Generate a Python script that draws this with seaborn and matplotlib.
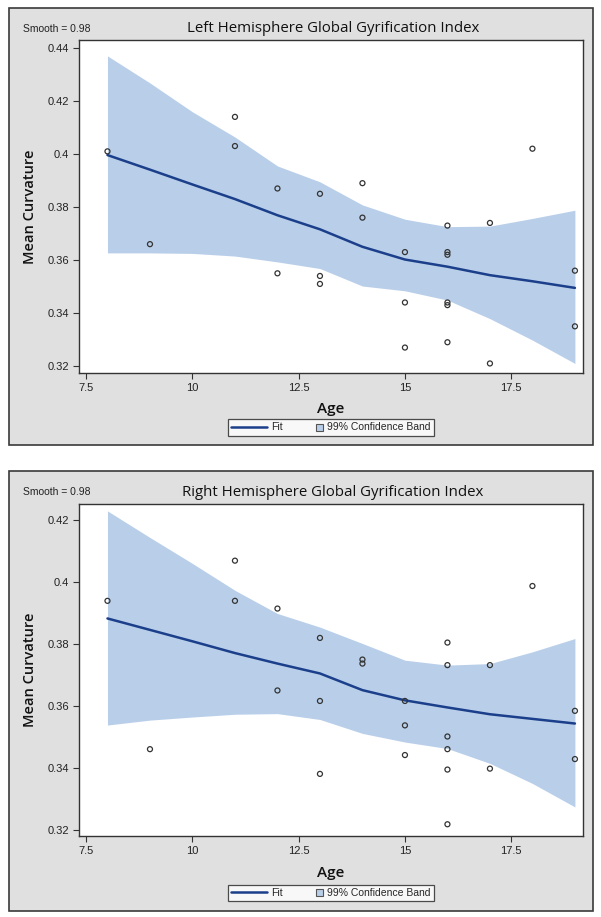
import numpy as np
import pandas as pd
import seaborn as sns
import matplotlib.pyplot as plt
import matplotlib.patches as mpatches
from matplotlib.lines import Line2D
from matplotlib.legend_handler import HandlerPatch
from matplotlib.ticker import FuncFormatter

# observed points (age, mean curvature)
ages = [8, 9, 11, 11, 12, 12, 13, 13, 13, 14, 14, 15, 15, 15,
        16, 16, 16, 16, 16, 16, 17, 17, 18, 19, 19]
left_curv = [0.401, 0.366, 0.414, 0.403, 0.387, 0.355, 0.385, 0.354, 0.351,
             0.389, 0.376, 0.363, 0.344, 0.327,
             0.373, 0.363, 0.362, 0.344, 0.343, 0.329,
             0.374, 0.321, 0.402, 0.356, 0.335]
right_curv = [0.394, 0.346, 0.407, 0.394, 0.3915, 0.365, 0.382, 0.3616, 0.338,
              0.375, 0.3737, 0.3616, 0.3537, 0.3441,
              0.3805, 0.3732, 0.3501, 0.3460, 0.3394, 0.3217,
              0.3732, 0.3397, 0.3988, 0.3584, 0.3428]

# loess fit and 99% band, read at whole ages
fit_age = [8, 9, 10, 11, 12, 13, 14, 15, 16, 17, 18, 19]
left_fit = [0.3996, 0.3941, 0.3885, 0.3830, 0.3769, 0.3716, 0.3650, 0.3602,
            0.3575, 0.3543, 0.3520, 0.3495]
left_upper = [0.4370, 0.4268, 0.4159, 0.4064, 0.3955, 0.3895, 0.3808, 0.3754,
              0.3726, 0.3728, 0.3757, 0.3788]
left_lower = [0.3627, 0.3627, 0.3625, 0.3615, 0.3593, 0.3568, 0.3502, 0.3484,
              0.3449, 0.3379, 0.3298, 0.3210]
right_fit = [0.3883, 0.3846, 0.3809, 0.3771, 0.3737, 0.3705, 0.3651, 0.3618,
             0.3595, 0.3573, 0.3558, 0.3543]
right_upper = [0.4231, 0.4145, 0.4061, 0.3974, 0.3899, 0.3855, 0.3802, 0.3748,
               0.3732, 0.3737, 0.3775, 0.3818]
right_lower = [0.3538, 0.3554, 0.3564, 0.3573, 0.3575, 0.3556, 0.3511, 0.3483,
               0.3462, 0.3414, 0.3349, 0.3273]

titles = ["Left Hemisphere Global Gyrification Index",
          "Right Hemisphere Global Gyrification Index"]
x_ticks = [7.5, 10, 12.5, 15, 17.5]
left_yticks = [0.32, 0.34, 0.36, 0.38, 0.40, 0.42, 0.44]
right_yticks = [0.32, 0.34, 0.36, 0.38, 0.40, 0.42]

sns.set_theme(style="white")
plt.rcParams['font.family'] = ['Liberation Sans', 'DejaVu Sans']

BAND = "#b9cfe9"
FIT = "#1b3f8b"
PANEL = "#e0e0e0"
W, H = 601, 917

fig = plt.figure(figsize=(W / 100, H / 100), dpi=100)
fig.patch.set_facecolor("white")


def fx(px):
    return px / W


def fy(py):
    return 1 - py / H


class SquareHandler(HandlerPatch):
    def create_artists(self, legend, orig_handle, xdescent, ydescent,
                       width, height, fontsize, trans):
        s = height * 0.95
        p = mpatches.Rectangle((width - s - xdescent, -ydescent), s, s,
                               facecolor=BAND, edgecolor="#555555", lw=0.8,
                               transform=trans)
        return [p]


panels = [
    dict(frame=(8.5, 445), plot=(40, 373), ylim=(0.3174, 0.443),
         y=left_curv, fit=left_fit, up=left_upper, lo=left_lower,
         yticks=left_yticks, title=titles[0], leg=427.5, xlab=409),
    dict(frame=(471, 911), plot=(503.5, 836), ylim=(0.3179, 0.4255),
         y=right_curv, fit=right_fit, up=right_upper, lo=right_lower,
         yticks=right_yticks, title=titles[1], leg=893, xlab=873),
]

for p in panels:
    top, bot = p["frame"]
    rect = mpatches.Rectangle((fx(8.5), fy(bot)), fx(584), (bot - top) / H,
                              transform=fig.transFigure, facecolor=PANEL,
                              edgecolor="#3a3a3a", lw=1.2, zorder=-1)
    fig.add_artist(rect)

    ptop, pbot = p["plot"]
    ax = fig.add_axes([fx(79), fy(pbot), fx(583 - 79), (pbot - ptop) / H])
    ax.set_facecolor("white")

    ax.fill_between(fit_age, p["lo"], p["up"], color=BAND, lw=0, zorder=1)
    sns.lineplot(x=fit_age, y=p["fit"], ax=ax, color=FIT, lw=1.8, zorder=2)
    df = pd.DataFrame({"Age": ages, "Curv": p["y"]})
    sns.scatterplot(data=df, x="Age", y="Curv", ax=ax, marker="o", s=13,
                    facecolor="none", edgecolor="#333333", linewidth=0.9,
                    zorder=3)

    ax.set_xlim(7.33, 19.19)
    ax.set_ylim(*p["ylim"])
    ax.set_xticks(x_ticks)
    ax.set_yticks(p["yticks"])
    ax.xaxis.set_major_formatter(FuncFormatter(lambda v, _: f"{v:g}"))
    ax.yaxis.set_major_formatter(FuncFormatter(lambda v, _: f"{v:g}"))
    ax.tick_params(axis="both", direction="out", length=4, width=0.8,
                   color="#333333", labelsize=8, labelcolor="#222222", pad=3,
                   left=True, bottom=True)
    for s in ax.spines.values():
        s.set_color("#333333")
        s.set_linewidth(1.0)
    ax.set_xlabel("")
    ax.set_ylabel("")

    fig.text(fx(333), fy(ptop - 11), p["title"], ha="center", va="center",
             fontsize=10.8, family=["Open Sans", "DejaVu Sans"], color="#111111")
    fig.text(fx(23), fy(ptop - 11), "Smooth = 0.98", ha="left", va="center",
             fontsize=7.5, color="#222222")
    fig.text(fx(30), fy((ptop + pbot) / 2), "Mean Curvature", rotation=90,
             ha="center", va="center", fontsize=10.5, fontweight="semibold",
             family=["Open Sans", "DejaVu Sans"], color="#111111")
    fig.text(fx(331), fy(p["xlab"]), "Age", ha="center", va="center",
             fontsize=11, fontweight="semibold",
             family=["Open Sans", "DejaVu Sans"], color="#111111")

    h_fit = Line2D([], [], color=FIT, lw=1.8)
    h_band = mpatches.Patch(facecolor=BAND, edgecolor="#555555")
    leg = fig.legend([h_fit, h_band], ["Fit", "99% Confidence Band"],
                     loc="center", bbox_to_anchor=(fx(331), fy(p["leg"])),
                     ncol=2, fontsize=7.5, frameon=True, fancybox=False,
                     edgecolor="#222222", borderpad=0.3, handlelength=3.4,
                     handletextpad=0.4, columnspacing=0.5, borderaxespad=0,
                     handler_map={mpatches.Patch: SquareHandler()})
    leg.get_frame().set_linewidth(0.9)
    leg.get_frame().set_facecolor("white")

fig.savefig("out.png", dpi=100)
